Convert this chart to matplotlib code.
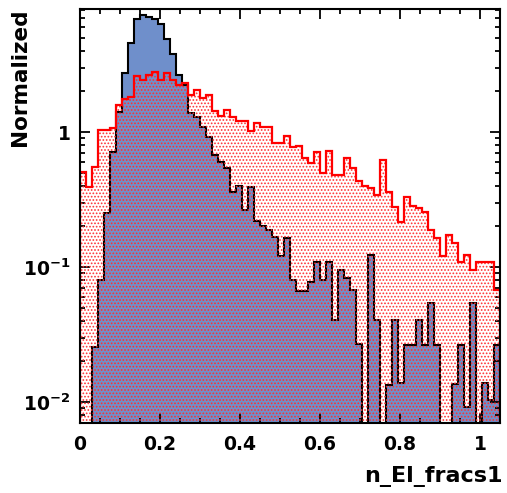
import numpy as np
import matplotlib
matplotlib.use("Agg")
import matplotlib.pyplot as plt
from matplotlib.ticker import MultipleLocator, LogLocator, FixedLocator, FixedFormatter, FuncFormatter, NullFormatter

# binning of n_El_fracs1: 70 bins on [0, 1.05]
x_lo, x_hi, n_bins = 0.0, 1.05, 70

# normalized bin contents
hist_blue = [0, 0, 0.0256, 0.080, 0.251, 0.71, 1.40, 2.73, 4.56, 6.87,
             7.36, 7.17, 6.93, 6.31, 4.89, 3.78, 2.64, 2.23, 1.38, 1.29,
             1.09, 0.918, 0.676, 0.600, 0.541, 0.359, 0.398, 0.264, 0.391, 0.219,
             0.201, 0.188, 0.167, 0.121, 0.164, 0.080, 0.066, 0.066, 0.077, 0.109,
             0.080, 0.109, 0.0405, 0.0948, 0.083, 0.0676, 0.0269, 0, 0.1226, 0.0405,
             0, 0.0134, 0.0405, 0.0138, 0.0264, 0.0264, 0.0405, 0.0264, 0.0541, 0.0264,
             0, 0, 0.0137, 0.0264, 0.0092, 0.0541, 0, 0.0138, 0.0104, 0.0264]

hist_red = [0.506, 0.391, 0.551, 1.035, 1.035, 1.07, 1.585, 1.756, 1.816, 2.60,
            2.43, 2.64, 2.78, 2.43, 2.74, 2.43, 2.23, 2.31, 1.88, 2.05,
            1.79, 1.88, 1.43, 1.31, 1.46, 1.29, 1.21, 1.21, 1.02, 1.17,
            1.09, 1.09, 0.829, 0.829, 0.934, 0.774, 0.788, 0.642, 0.589, 0.711,
            0.497, 0.723, 0.480, 0.480, 0.642, 0.541, 0.434, 0.398, 0.385, 0.342,
            0.620, 0.359, 0.278, 0.215, 0.330, 0.283, 0.274, 0.256, 0.188, 0.164,
            0.121, 0.173, 0.151, 0.109, 0.123, 0.095, 0.109, 0.109, 0.109, 0.068]

y_ticks = [0.01, 0.1, 1]
y_ticklabels = [r"$10^{-2}$", r"$10^{-1}$", r"$1$"]

plt.rcParams["font.family"] = ["DejaVu Sans"]
plt.rcParams["font.weight"] = "bold"
plt.rcParams["mathtext.default"] = "bf"
plt.rcParams["hatch.linewidth"] = 0.8

edges = np.linspace(x_lo, x_hi, n_bins + 1)
floor = 1e-5
blue = np.clip(np.array(hist_blue), floor, None)
red = np.clip(np.array(hist_red), floor, None)

fig = plt.figure(figsize=(5.07, 4.93), dpi=100)
ax = fig.add_axes([80 / 507, 1 - 423 / 493, 420 / 507, 414 / 493])
ax.set_yscale("log")

# blue histogram: solid fill + black outline
ax.stairs(blue, edges, baseline=floor, fill=True, facecolor="#6f8fcb",
          edgecolor="none", linewidth=0, zorder=1)
ax.stairs(blue, edges, baseline=floor, color="black", linewidth=1.5, zorder=2)

# red histogram: dotted pattern + red outline
ax.stairs(red, edges, baseline=floor, fill=True, facecolor="none",
          edgecolor="#ff3030", hatch=".....", linewidth=0, zorder=3)
ax.stairs(red, edges, baseline=floor, color="#ff0000", linewidth=1.6, zorder=4)

ax.set_xlim(x_lo, x_hi)
ax.set_ylim(0.00699, 8.15)

ax.xaxis.set_major_locator(MultipleLocator(0.2))
ax.xaxis.set_minor_locator(MultipleLocator(0.05))
ax.xaxis.set_major_formatter(FuncFormatter(lambda v, p: "%g" % round(v, 2)))
ax.yaxis.set_major_locator(FixedLocator(y_ticks))
ax.yaxis.set_major_formatter(FixedFormatter(y_ticklabels))
ax.yaxis.set_minor_locator(LogLocator(base=10, subs=np.arange(2, 10)))
ax.yaxis.set_minor_formatter(NullFormatter())

ax.tick_params(which="both", direction="in", top=True, right=True,
               width=1.3, colors="black", labelsize=13.5)
ax.tick_params(which="major", length=7)
ax.tick_params(which="minor", length=3.5)
ax.tick_params(axis="x", pad=9)
ax.tick_params(axis="y", pad=7)
for s in ax.spines.values():
    s.set_linewidth(1.5)
    s.set_zorder(10)

fig.text(20 / 507, 1 - 8 / 493, "Normalized", rotation=90, ha="center", va="top",
         fontsize=15.5, fontweight="bold")
fig.text(503 / 507, 1 - 466 / 493, "n_El_fracs1", ha="right", va="top",
         fontsize=16, fontweight="bold")

fig.savefig("out.png", dpi=100)
